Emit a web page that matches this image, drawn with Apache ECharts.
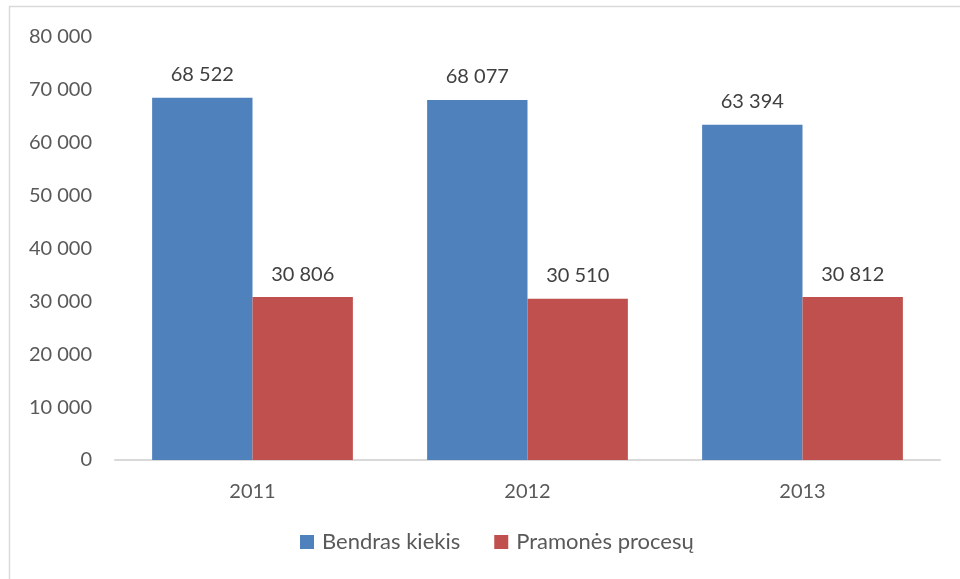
<!DOCTYPE html>
<html>
<head>
<meta charset="utf-8">
<script src="https://cdn.jsdelivr.net/npm/echarts@6/dist/echarts.min.js"></script>
<style>
  html, body { margin: 0; padding: 0; background: #fff; }
  #chart { width: 960px; height: 579px; }
</style>
</head>
<body>
<div id="chart"></div>
<script>
const years = ['2011', '2012', '2013'];
const seriesNames = ['Bendras kiekis', 'Pramonės procesų'];
const totalValues = [68522, 68077, 63394];
const industryValues = [30806, 30510, 30812];

const fmt = v => String(Math.round(v)).replace(/\B(?=(\d{3})+(?!\d))/g, ' ');
const fontFamily = 'Lato, "Open Sans", sans-serif';

const chart = echarts.init(document.getElementById('chart'), null, { renderer: 'canvas' });

const labelStyle = {
  show: true,
  position: 'top',
  distance: 13,
  color: '#404040',
  fontSize: 20,
  fontFamily,
  formatter: p => fmt(p.value)
};

chart.setOption({
  animation: false,
  backgroundColor: '#fff',
  graphic: [{
    type: 'polyline',
    shape: { points: [[9.5, 579], [9.5, 6.5], [960, 6.5]] },
    style: { stroke: '#d9d9d9', fill: null, lineWidth: 1.5 },
    silent: true
  }],
  grid: { left: 115, right: 20, top: 37, bottom: 119 },
  legend: {
    bottom: 21,
    left: 295,
    itemWidth: 14,
    itemHeight: 14,
    itemGap: 34,
    icon: 'rect',
    textStyle: { color: '#595959', fontSize: 22, fontFamily, padding: [0, 0, 0, 3] },
    data: seriesNames
  },
  xAxis: {
    type: 'category',
    data: years,
    axisLine: { lineStyle: { color: '#d9d9d9', width: 2 } },
    axisTick: { show: false },
    axisLabel: { color: '#595959', fontSize: 20, fontFamily, margin: 22 }
  },
  yAxis: {
    type: 'value',
    min: 0,
    max: 80000,
    interval: 10000,
    splitLine: { show: false },
    axisLine: { show: false },
    axisTick: { show: false },
    axisLabel: { color: '#595959', fontSize: 20, fontFamily, margin: 23, formatter: v => fmt(v) }
  },
  series: [
    {
      name: seriesNames[0],
      type: 'bar',
      data: totalValues,
      barGap: '0%',
      barCategoryGap: '27%',
      itemStyle: { color: '#4F81BD' },
      label: labelStyle
    },
    {
      name: seriesNames[1],
      type: 'bar',
      data: industryValues,
      itemStyle: { color: '#C0504D' },
      label: labelStyle
    }
  ]
});
</script>
</body>
</html>
